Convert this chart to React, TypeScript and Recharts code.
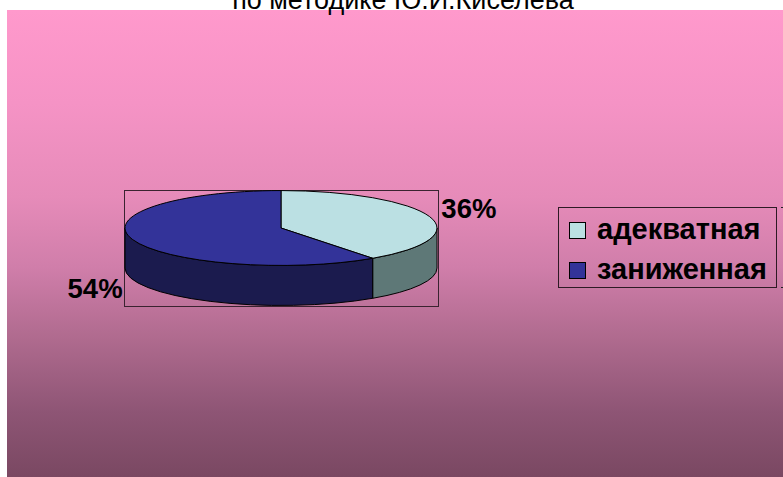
import React from 'react';
import { PieChart, Pie, Cell, Legend } from 'recharts';

const categories = ['адекватная', 'заниженная'];
const values = [36, 54];
const valueLabels = ['36%', '54%'];
const topColors = ['#BBE0E3', '#333399'];
const wallColors = ['#5E7877', '#1B1B4E'];
const titleText = 'по методике Ю.И.Киселева';

const data = categories.map((name, i) => ({ name, value: values[i] }));

const W = 783;
const H = 477;
const TILT = 0.24;
const DEPTH = 40;
const FONT = '"Liberation Sans", Arial, Helvetica, sans-serif';

function pt(cx: number, cy: number, rx: number, ry: number, a: number): [number, number] {
  const r = (a * Math.PI) / 180;
  return [cx + rx * Math.cos(r), cy - ry * Math.sin(r)];
}

function renderSlice(props: any) {
  const { cx, cy, outerRadius, startAngle, endAngle, midAngle, index } = props;
  const rx = outerRadius;
  const ry = outerRadius * TILT;
  const s = Math.max(startAngle, endAngle);
  const e = Math.min(startAngle, endAngle);
  const walls: string[] = [];
  for (let k = -2; k <= 1; k++) {
    const lo = -180 + 360 * k;
    const hi = 360 * k;
    const a1 = Math.min(s, hi);
    const a2 = Math.max(e, lo);
    if (a1 > a2 + 0.01) {
      const p1 = pt(cx, cy, rx, ry, a1);
      const p2 = pt(cx, cy, rx, ry, a2);
      walls.push(
        `M${p1[0]},${p1[1]} A${rx},${ry} 0 0 1 ${p2[0]},${p2[1]} L${p2[0]},${p2[1] + DEPTH} A${rx},${ry} 0 0 0 ${p1[0]},${p1[1] + DEPTH} Z`
      );
    }
  }
  const ps = pt(cx, cy, rx, ry, s);
  const pe = pt(cx, cy, rx, ry, e);
  const large = s - e > 180 ? 1 : 0;
  const top = `M${cx},${cy} L${ps[0]},${ps[1]} A${rx},${ry} 0 ${large} 1 ${pe[0]},${pe[1]} Z`;
  const m = pt(cx, cy, rx, ry, midAngle);
  const right = Math.cos((midAngle * Math.PI) / 180) >= 0;
  const front = Math.sin((midAngle * Math.PI) / 180) < 0;
  const lx = m[0] + (right ? 12 : -10);
  const ly = m[1] + (front ? DEPTH + 18 : 2);
  return (
    <g key={`slice-${index}`}>
      {walls.map((d, j) => (
        <path key={j} d={d} fill={wallColors[index]} stroke="#000" strokeWidth={1} />
      ))}
      <path d={top} fill={topColors[index]} stroke="#000" strokeWidth={1} />
      <text
        x={lx}
        y={ly}
        textAnchor={right ? 'start' : 'end'}
        fontFamily={FONT}
        fontWeight="bold"
        fontSize={27.5}
        fill="#000"
      >
        {valueLabels[index]}
      </text>
    </g>
  );
}

function renderLegend() {
  return (
    <svg width={219} height={81} style={{ display: 'block', overflow: 'visible' }}>
      <rect x={0.5} y={0.5} width={218} height={80} fill="none" stroke="#2E1A24" strokeWidth={1} />
      {categories.map((c, i) => (
        <g key={c}>
          <rect x={11.5} y={15.5 + 40 * i} width={16} height={16} fill={topColors[i]} stroke="#000" strokeWidth={1} />
          <text x={39} y={32 + 40 * i} fontFamily={FONT} fontWeight="bold" fontSize={29} fill="#000">
            {c}
          </text>
        </g>
      ))}
    </svg>
  );
}

export default function App() {
  return (
    <div style={{ position: 'absolute', left: 0, top: 0, width: W, height: H, overflow: 'hidden', background: '#fff' }}>
      <div
        style={{
          position: 'absolute',
          left: 7,
          top: 10,
          width: W - 7,
          height: H - 10,
          background:
            'linear-gradient(to bottom, #FF99CC 0%, #F593C5 20%, #E68BB9 40%, #D07EAA 55%, #B06B8F 70%, #8E5575 86%, #7A4862 100%)',
        }}
      />
      <div
        style={{
          position: 'absolute',
          left: 124,
          top: 190,
          width: 315,
          height: 117,
          border: '1px solid #3A2330',
          boxSizing: 'border-box',
        }}
      />
      <div style={{ position: 'absolute', left: 781, top: 207, width: 2, height: 1, background: '#222' }} />
      <div style={{ position: 'absolute', left: 781, top: 287, width: 2, height: 1, background: '#222' }} />
      <svg width={W} height={30} style={{ position: 'absolute', left: 0, top: 0 }}>
        <text x={403} y={9} textAnchor="middle" fontFamily={FONT} fontSize={27} fill="#000">
          {titleText}
        </text>
      </svg>
      <div style={{ position: 'absolute', left: 0, top: 0 }}>
        <PieChart width={W} height={H} margin={{ top: 0, right: 0, bottom: 0, left: 0 }}>
          <Pie
            data={data}
            dataKey="value"
            nameKey="name"
            cx={281}
            cy={228}
            outerRadius={156}
            startAngle={90}
            endAngle={-270}
            isAnimationActive={false}
            label={renderSlice}
            labelLine={false}
            stroke="none"
            fill="transparent"
          >
            {data.map((d) => (
              <Cell key={d.name} fill="transparent" stroke="none" />
            ))}
          </Pie>
          <Legend
            layout="vertical"
            align="right"
            verticalAlign="middle"
            content={renderLegend}
            wrapperStyle={{ left: 558, top: 207, right: 'auto', bottom: 'auto', width: 219, height: 81 }}
          />
        </PieChart>
      </div>
    </div>
  );
}
